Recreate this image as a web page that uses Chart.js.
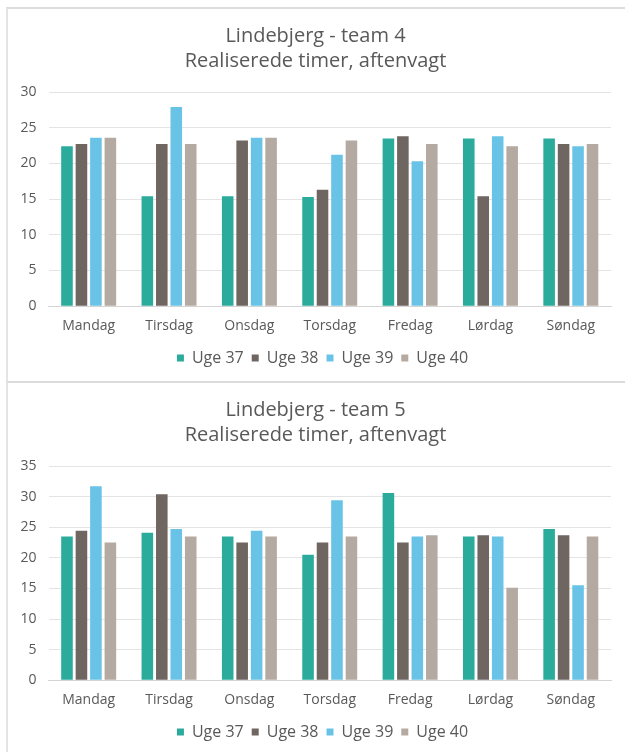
<!DOCTYPE html>
<html>
<head>
<meta charset="utf-8">
<script src="https://cdn.jsdelivr.net/npm/chart.js@4/dist/chart.umd.min.js"></script>
<style>
  html, body { margin: 0; padding: 0; background: #ffffff; overflow: hidden; }
  body { width: 625px; height: 752px; position: relative; }
  .panel { position: absolute; left: 6px; width: 619px; box-sizing: border-box;
           border-top: 2px solid #dcdcdc; border-left: 2px solid #e4e4e4; }
  #p1 { top: 7px; height: 375px; }
  #p2 { top: 381px; height: 371px; }
  .wrap { position: absolute; left: 0; width: 625px; height: 374px; }
  #w1 { top: 8px; }
  #w2 { top: 382px; }
</style>
</head>
<body>
<div class="panel" id="p1"></div>
<div class="panel" id="p2"></div>
<div class="wrap" id="w1"><canvas id="c1" width="625" height="374"></canvas></div>
<div class="wrap" id="w2"><canvas id="c2" width="625" height="374"></canvas></div>
<script>
// Weekdays on the x axis
const days = ['Mandag', 'Tirsdag', 'Onsdag', 'Torsdag', 'Fredag', 'Lørdag', 'Søndag'];
const weeks = ['Uge 37', 'Uge 38', 'Uge 39', 'Uge 40'];

// Team 4 – realised evening hours per week
const team4Uge37 = [22.4, 15.4, 15.4, 15.3, 23.5, 23.5, 23.5];
const team4Uge38 = [22.7, 22.7, 23.2, 16.3, 23.8, 15.4, 22.7];
const team4Uge39 = [23.6, 27.9, 23.6, 21.2, 20.3, 23.8, 22.4];
const team4Uge40 = [23.6, 22.7, 23.6, 23.2, 22.7, 22.4, 22.7];

// Team 5 – realised evening hours per week
const team5Uge37 = [23.5, 24.1, 23.5, 20.5, 30.6, 23.5, 24.7];
const team5Uge38 = [24.4, 30.4, 22.5, 22.5, 22.5, 23.7, 23.7];
const team5Uge39 = [31.7, 24.7, 24.4, 29.4, 23.5, 23.5, 15.5];
const team5Uge40 = [22.5, 23.5, 23.5, 23.5, 23.7, 15.1, 23.5];

const team4Title = ['Lindebjerg - team 4', 'Realiserede timer, aftenvagt'];
const team5Title = ['Lindebjerg - team 5', 'Realiserede timer, aftenvagt'];
const team4Max = 30;
const team5Max = 35;

const colors = ['#2aab9b', '#6f6561', '#68c3e6', '#b4aaa1'];
const textColor = '#595959';
const fontFamily = "'Open Sans', 'Liberation Sans', sans-serif";

// Nudge the legend row a little to the right, under the plot area
const legendOffset = {
  id: 'legendOffset',
  afterLayout(chart) {
    const lg = chart.legend;
    if (lg) { lg.left += 7; lg.right += 7; }
  }
};

function makeChart(id, title, series, yMax) {
  const datasets = series.map((values, i) => ({
    label: weeks[i],
    data: values,
    backgroundColor: colors[i],
    borderWidth: 0,
    categoryPercentage: 0.72,
    barPercentage: 0.8
  }));
  return new Chart(document.getElementById(id), {
    type: 'bar',
    data: { labels: days, datasets },
    plugins: [legendOffset],
    options: {
      responsive: false,
      animation: false,
      devicePixelRatio: 1,
      layout: { padding: { top: 0, left: 20, right: 14, bottom: 6 } },
      plugins: {
        title: {
          display: true,
          text: title,
          color: textColor,
          font: { family: fontFamily, size: 20, weight: 'normal', lineHeight: 1.25 },
          padding: { top: 16, bottom: 18 }
        },
        legend: {
          position: 'bottom',
          labels: {
            color: textColor,
            font: { family: fontFamily, size: 16 },
            boxWidth: 7,
            boxHeight: 7,
            padding: 8
          }
        },
        tooltip: { enabled: false }
      },
      scales: {
        x: {
          grid: { display: false, drawTicks: false },
          border: { display: true, color: '#d4d4d4', width: 1 },
          ticks: { color: textColor, font: { family: fontFamily, size: 14 }, padding: 11 },
          afterFit: (scale) => { scale.height = scale.height - 3; }
        },
        y: {
          min: 0,
          max: yMax,
          grid: { color: '#e4e4e4', drawTicks: false },
          border: { display: false },
          ticks: { stepSize: 5, color: textColor, font: { family: fontFamily, size: 14 }, padding: 12 },
          afterFit: (scale) => { scale.width = 28.5; }
        }
      }
    }
  });
}

makeChart('c1', team4Title, [team4Uge37, team4Uge38, team4Uge39, team4Uge40], team4Max);
makeChart('c2', team5Title, [team5Uge37, team5Uge38, team5Uge39, team5Uge40], team5Max);
</script>
</body>
</html>
